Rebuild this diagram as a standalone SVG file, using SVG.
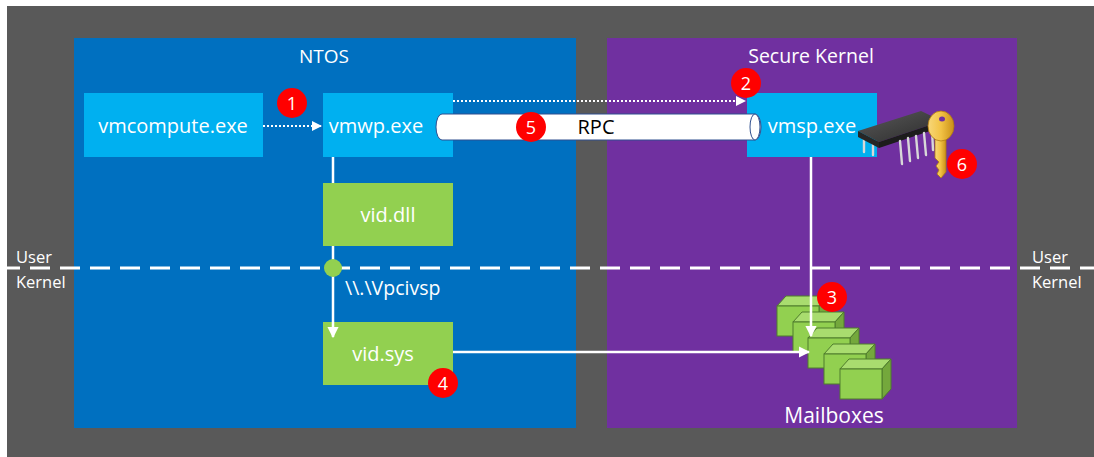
<svg xmlns="http://www.w3.org/2000/svg" width="1094" height="457" viewBox="0 0 1094 457">
  <defs>
    <style>
      .lbl { font-family: "Open Sans", "Noto Sans", sans-serif; fill: #ffffff; }
      .box { fill: #00b0f0; }
      .gbox { fill: #92d050; }
      .num { fill: #ff0000; }
      .numt { font-family: "Open Sans", "Noto Sans", sans-serif; font-size: 18px; fill: #ffffff; text-anchor: middle; }
      .solid { stroke: #ffffff; stroke-width: 2.5; fill: none; }
      .dot { stroke: #ffffff; stroke-width: 2; stroke-dasharray: 2 2; fill: none; }
      .cf { fill: #92d050; stroke: #4f7d2c; stroke-width: 1; }
      .ct { fill: #a9dc6f; stroke: #4f7d2c; stroke-width: 1; }
      .cs { fill: #74a83c; stroke: #4f7d2c; stroke-width: 1; }
      .pin { stroke: #d8d8d8; stroke-width: 2.4; stroke-linecap: round; }
    </style>
    <marker id="arrow" viewBox="0 0 10 10" refX="9" refY="5" markerWidth="4.5" markerHeight="4.5" orient="auto" markerUnits="strokeWidth">
      <path d="M0,0 L10,5 L0,10 z" fill="#ffffff"/>
    </marker>
    <marker id="arrowSm" viewBox="0 0 10 10" refX="9" refY="5" markerWidth="5" markerHeight="5" orient="auto" markerUnits="strokeWidth">
      <path d="M0,0 L10,5 L0,10 z" fill="#ffffff"/>
    </marker>
    <linearGradient id="keyGrad" x1="0" y1="0" x2="1" y2="0">
      <stop offset="0" stop-color="#f7d77a"/>
      <stop offset="0.5" stop-color="#f2c244"/>
      <stop offset="1" stop-color="#c98f17"/>
    </linearGradient>
    <linearGradient id="chipGrad" x1="0" y1="0" x2="1" y2="1">
      <stop offset="0" stop-color="#5a5a5a"/>
      <stop offset="1" stop-color="#2a2a2a"/>
    </linearGradient>
  </defs>

  <!-- backdrop and the two worlds -->
  <rect x="7" y="6" width="1087" height="451" fill="#595959"/>
  <g id="ntos">
    <rect x="74" y="38" width="502" height="390" fill="#0070c0"/>
    <text class="lbl" x="324" y="63" font-size="19" text-anchor="middle">NTOS</text>
  </g>
  <g id="secure-kernel">
    <rect x="607" y="38" width="410" height="390" fill="#7030a0"/>
    <text class="lbl" x="811" y="63" font-size="19.5" text-anchor="middle">Secure Kernel</text>
  </g>

  <!-- user / kernel boundary -->
  <g id="boundary">
    <line x1="0" y1="268" x2="1094" y2="268" stroke="#ffffff" stroke-width="3" stroke-dasharray="20 10"/>
    <text class="lbl" x="16" y="263" font-size="16.5">User</text>
    <text class="lbl" x="16" y="288" font-size="16.5">Kernel</text>
    <text class="lbl" x="1032" y="263" font-size="16.5">User</text>
    <text class="lbl" x="1032" y="288" font-size="16.5">Kernel</text>
  </g>

  <!-- processes -->
  <g id="vmcompute">
    <rect class="box" x="84" y="93" width="179" height="64"/>
    <text class="lbl" x="173" y="133" font-size="20" text-anchor="middle">vmcompute.exe</text>
  </g>
  <g id="vmwp">
    <rect class="box" x="323" y="93" width="130" height="64"/>
    <text class="lbl" x="376" y="133" font-size="20" text-anchor="middle">vmwp.exe</text>
  </g>
  <g id="vmsp">
    <rect class="box" x="747" y="93" width="130" height="64"/>
    <text class="lbl" x="812" y="133" font-size="20" text-anchor="middle">vmsp.exe</text>
  </g>

  <!-- RPC pipe -->
  <g id="rpc">
    <path d="M442,114 L755,114 A6,13 0 0 1 755,140 L442,140 A6,13 0 0 1 442,114 z" fill="#ffffff" stroke="#2f4f8f" stroke-width="1"/>
    <ellipse cx="755" cy="127" rx="5" ry="13" fill="#ffffff" stroke="#2f4f8f" stroke-width="1"/>
    <text x="596" y="134" font-family="Open Sans, Noto Sans, sans-serif" font-size="20" fill="#000000" text-anchor="middle">RPC</text>
  </g>

  <g id="vid-dll">
    <rect class="gbox" x="323" y="183" width="130" height="63"/>
    <text class="lbl" x="388" y="222" font-size="20" text-anchor="middle">vid.dll</text>
  </g>
  <g id="vid-sys">
    <rect class="gbox" x="323" y="322" width="130" height="63"/>
    <text class="lbl" x="383" y="361" font-size="20" text-anchor="middle">vid.sys</text>
  </g>

  <!-- mailbox cubes -->
  <g id="mailboxes">
    <g transform="translate(777,306)">
      <polygon class="ct" points="0,0 42,0 51,-10 9,-10"/>
      <polygon class="cs" points="42,0 51,-10 51,20 42,30"/>
      <rect class="cf" x="0" y="0" width="42" height="30"/>
    </g>
    <g transform="translate(793,322)">
      <polygon class="ct" points="0,0 42,0 51,-10 9,-10"/>
      <polygon class="cs" points="42,0 51,-10 51,20 42,30"/>
      <rect class="cf" x="0" y="0" width="42" height="30"/>
    </g>
    <g transform="translate(808,338)">
      <polygon class="ct" points="0,0 42,0 51,-10 9,-10"/>
      <polygon class="cs" points="42,0 51,-10 51,20 42,30"/>
      <rect class="cf" x="0" y="0" width="42" height="30"/>
    </g>
    <g transform="translate(824,354)">
      <polygon class="ct" points="0,0 42,0 51,-10 9,-10"/>
      <polygon class="cs" points="42,0 51,-10 51,20 42,30"/>
      <rect class="cf" x="0" y="0" width="42" height="30"/>
    </g>
    <g transform="translate(840,369)">
      <polygon class="ct" points="0,0 42,0 51,-10 9,-10"/>
      <polygon class="cs" points="42,0 51,-10 51,20 42,30"/>
      <rect class="cf" x="0" y="0" width="42" height="30"/>
    </g>
    <text class="lbl" x="834" y="423" font-size="21" text-anchor="middle">Mailboxes</text>
  </g>

  <!-- connectors -->
  <g id="connectors">
    <line class="dot" x1="263" y1="126" x2="321" y2="126" marker-end="url(#arrowSm)"/>
    <line class="dot" x1="453" y1="101" x2="745" y2="101" marker-end="url(#arrowSm)"/>
    <path class="solid" d="M333,157 V183 M333,246 V337" marker-end="url(#arrow)"/>
    <line class="solid" x1="453" y1="352" x2="809" y2="352" marker-end="url(#arrow)"/>
    <line class="solid" x1="811" y1="157" x2="811" y2="336" marker-end="url(#arrow)"/>
  </g>

  <!-- device name at the boundary -->
  <g id="vpcivsp">
    <circle cx="333" cy="268" r="9" fill="#92d050"/>
    <text class="lbl" x="345" y="295" font-size="19.5">\\.\Vpcivsp</text>
  </g>

  <!-- chip and key -->
  <g id="chip-key">
    <line class="pin" x1="864" y1="138" x2="864" y2="152"/>
    <line class="pin" x1="873" y1="142" x2="873" y2="155"/>
    <polygon points="858,131 921,111 942,121 879,142" fill="url(#chipGrad)"/>
    <polygon points="858,131 879,142 879,148 858,137" fill="#262626"/>
    <polygon points="879,142 942,121 942,127 879,148" fill="#1c1c1c"/>
    <line class="pin" x1="900" y1="141" x2="902" y2="164"/>
    <line class="pin" x1="908" y1="138" x2="910" y2="161"/>
    <line class="pin" x1="916" y1="136" x2="918" y2="158"/>
    <line class="pin" x1="924" y1="133" x2="926" y2="155"/>
    <line class="pin" x1="932" y1="130" x2="933" y2="150"/>
    <path d="M935,136 L946,136 L946,172 L941,178 L937,174 L939,170 L936,166 L939,162 L935,158 z" fill="url(#keyGrad)" stroke="#b07a10" stroke-width="0.8"/>
    <ellipse cx="941" cy="126" rx="13" ry="15" fill="url(#keyGrad)" stroke="#b07a10" stroke-width="0.8"/>
    <ellipse cx="942" cy="119" rx="3" ry="2.5" fill="#7030a0"/>
  </g>

  <!-- step markers -->
  <g id="step-1"><circle class="num" cx="292" cy="103" r="15"/><text class="numt" x="292" y="110">1</text></g>
  <g id="step-2"><circle class="num" cx="746" cy="83" r="15"/><text class="numt" x="746" y="90">2</text></g>
  <g id="step-3"><circle class="num" cx="832" cy="297" r="15"/><text class="numt" x="832" y="304">3</text></g>
  <g id="step-4"><circle class="num" cx="443" cy="383" r="15"/><text class="numt" x="443" y="390">4</text></g>
  <g id="step-5"><circle class="num" cx="531" cy="127" r="15"/><text class="numt" x="531" y="134">5</text></g>
  <g id="step-6"><circle class="num" cx="962" cy="164" r="15"/><text class="numt" x="962" y="171">6</text></g>
</svg>
